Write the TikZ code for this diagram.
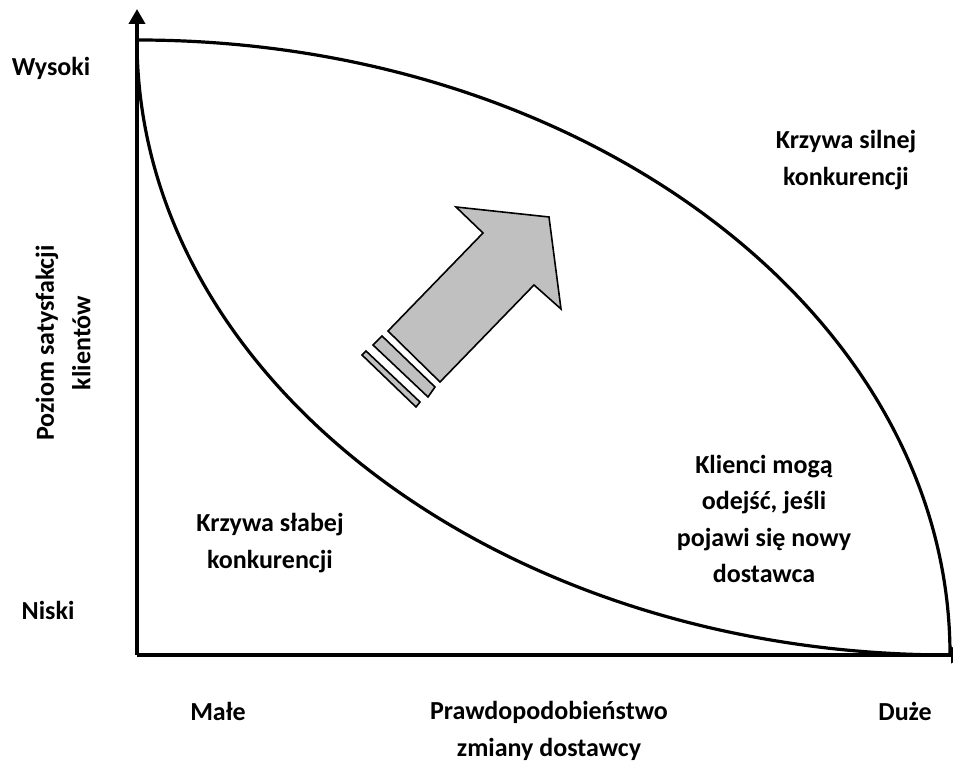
\documentclass[tikz,border=0pt]{standalone}
\usepackage{fontspec}
\setmainfont{Carlito}
\usetikzlibrary{arrows.meta}
\definecolor{arrowgray}{HTML}{C0C0C0}
\tikzset{
  axisline/.style={line width=4pt, -{Triangle[length=15pt,width=16pt]}},
  curveline/.style={line width=3.2pt},
  lbl/.style={font=\fontsize{26}{36.5}\selectfont\bfseries, align=center, inner sep=0pt},
  blockshape/.style={fill=arrowgray, draw=black, line width=1.6pt, line join=miter}
}
\begin{document}
\begin{tikzpicture}[x=1pt,y=1pt]
\useasboundingbox (0,0) rectangle (953,762);
\coordinate (O) at (137,107);
\coordinate (ytop) at (137,753);
\coordinate (xend) at (966,107);
\coordinate (start) at (137,722);

% axes
\draw[axisline] (O) -- (ytop);
\draw[axisline] (O) -- (xend);

% strong and weak competition curves (quarter ellipses)
\draw[curveline] (start) arc[start angle=90, end angle=0, x radius=813pt, y radius=615pt];
\draw[curveline] (start) arc[start angle=180, end angle=270, x radius=813pt, y radius=615pt];

% block arrow with trailing stripes
\draw[blockshape] (456,555) -- (549,545) -- (561,453) -- (534,477) -- (440,380) -- (388,431) -- (483,529) -- cycle;
\draw[blockshape] (382,426) -- (435,375) -- (428,365) -- (373,417) -- cycle;
\draw[blockshape] (366,411) -- (420,360) -- (416,355) -- (362,407) -- cycle;

% labels
\node[lbl] (high) at (51,694) {Wysoki};
\node[lbl] (low) at (48,152) {Niski};
\node[lbl, rotate=90] (ylab) at (63,419) {Poziom satysfakcji\\klientów};
\node[lbl] (small) at (218,51) {Małe};
\node[lbl] (xlab) at (549,31) {Prawdopodobieństwo\\zmiany dostawcy};
\node[lbl] (large) at (905,51) {Duże};
\node[lbl] (strong) at (846,602) {Krzywa silnej\\konkurencji};
\node[lbl] (weak) at (270,219) {Krzywa słabej\\konkurencji};
\node[lbl] (leave) at (764,243) {Klienci mogą\\odejść, jeśli\\pojawi się nowy\\dostawca};
\end{tikzpicture}
\end{document}
